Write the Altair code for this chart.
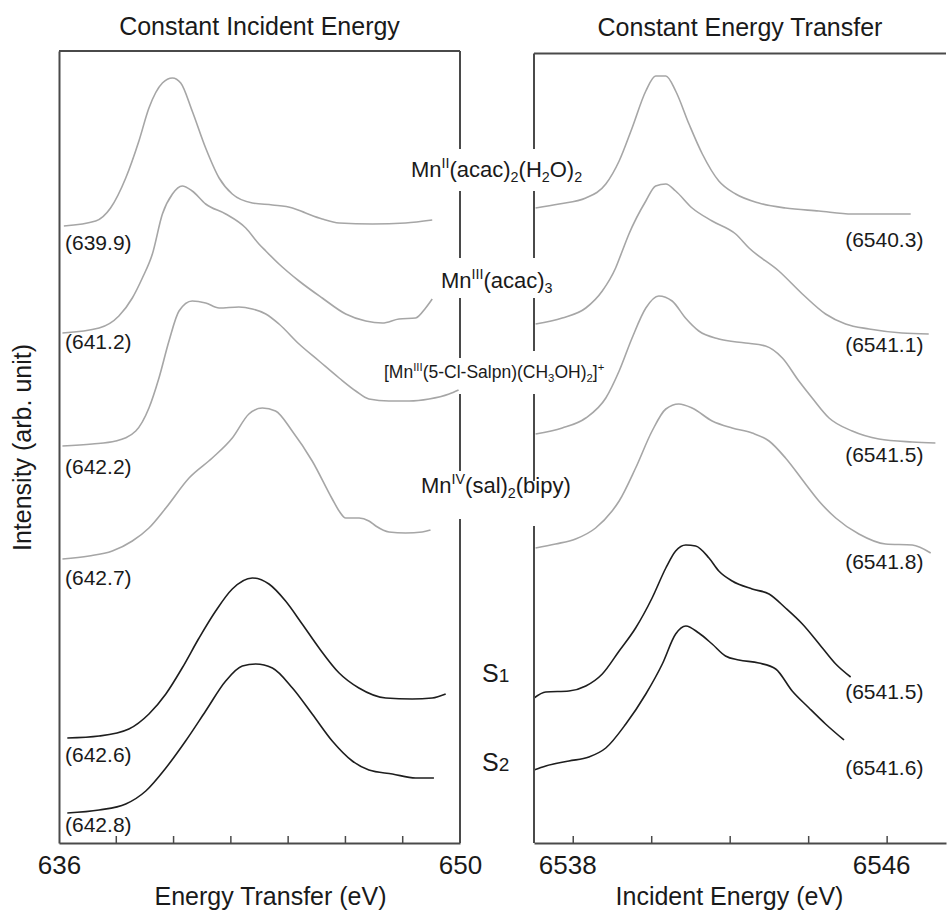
import altair as alt
import pandas as pd

FONT = "Liberation Sans"
GRAY = "#a6a6a6"
BLACK = "#1e1e1e"
FRAME = "#4a4a4a"
INK = "#1a1a1a"

# ---------------- Constant incident energy (x: energy transfer, eV) ----------------
cie_mn2_e = [636.17, 637.28, 637.80, 638.33, 638.79, 639.14, 639.61, 639.96, 640.25, 640.65, 641.12,
             641.59, 642.05, 642.75, 643.45, 644.15, 644.61, 645.19, 645.78, 646.94, 648.10, 649.03]
cie_mn2_i = [617, 622, 635, 665, 702, 735, 760, 765, 760, 732, 695,
             665, 649, 640, 638, 635, 630, 624, 620, 619, 620, 623]

cie_mn3_e = [636.12, 637.40, 638.09, 638.56, 638.91, 639.26, 639.61, 639.96, 640.30, 640.65, 641.12, 641.82,
             642.52, 642.98, 643.22, 643.68, 644.38, 645.19, 646.01, 646.71, 647.29, 647.87, 648.45, 648.80, 649.03]
cie_mn3_i = [510, 515, 527, 545, 565, 589, 629, 649, 657, 652, 639, 629,
             615, 599, 592, 579, 562, 545, 529, 522, 520, 524, 525, 535, 544]

cie_salpn_e = [636.12, 637.16, 637.98, 638.68, 639.14, 639.49, 639.84, 640.19, 640.65, 641.12, 641.59, 642.28,
               642.75, 643.22, 643.68, 644.38, 645.08, 645.78, 646.36, 646.82, 647.52, 648.22, 648.92, 649.62, 649.95]
cie_salpn_i = [397, 399, 402, 412, 435, 465, 502, 532, 542, 540, 535, 536,
               534, 529, 519, 499, 482, 465, 452, 444, 442, 442, 444, 449, 453]

cie_mn4_e = [636.12, 637.05, 637.86, 638.56, 639.14, 639.73, 640.54, 641.35, 642.05, 642.63, 643.10, 643.56,
             644.14, 644.84, 645.54, 645.78, 646.01, 646.48, 646.82, 647.06, 647.52, 648.10, 648.68, 648.97]
cie_mn4_i = [284, 287, 292, 302, 315, 335, 365, 385, 405, 429, 435, 432,
             412, 382, 344, 332, 325, 325, 322, 317, 311, 310, 311, 313]

cie_s1_e = [636.29, 637.40, 638.44, 639.14, 639.73, 640.30, 640.89, 641.47, 642.05, 642.75,
            643.33, 643.91, 644.49, 645.08, 645.78, 646.47, 647.41, 648.33, 649.03, 649.50]
cie_s1_i = [105, 107, 114, 129, 149, 175, 205, 232, 254, 265,
            259, 242, 219, 195, 170, 155, 145, 144, 145, 149]

cie_s2_e = [636.29, 637.40, 638.33, 639.03, 639.73, 640.42, 641.12, 641.82, 642.40, 642.87,
            643.45, 644.15, 644.84, 645.54, 646.24, 646.82, 647.64, 648.45, 649.09]
cie_s2_i = [30, 33, 39, 52, 75, 102, 132, 162, 177, 179,
            175, 155, 129, 102, 82, 73, 69, 65, 65]

cie_tags = ["(639.9)", "(641.2)", "(642.2)", "(642.7)", "(642.6)", "(642.8)"]
cie_tag_i = [599, 500, 375, 264, 87, 17]
cie_ticks = [638, 640, 642, 644, 646, 648]

# ---------------- Constant energy transfer (x: incident energy, eV) ----------------
cet_mn2_e = [6537.04, 6537.64, 6538.32, 6538.83, 6539.17, 6539.50, 6539.85, 6540.10, 6540.36, 6540.61,
             6540.95, 6541.29, 6541.71, 6542.14, 6542.73, 6543.41, 6544.26, 6545.11, 6545.96, 6546.60]
cet_mn2_i = [635, 639, 645, 659, 682, 715, 752, 767, 767, 752,
             719, 689, 662, 649, 640, 635, 632, 629, 629, 629]

cet_mn3_e = [6537.04, 6537.72, 6538.32, 6538.74, 6539.08, 6539.25, 6539.42, 6539.85, 6540.10, 6540.36, 6540.61,
             6541.03, 6541.54, 6542.14, 6542.48, 6543.24, 6543.84, 6544.43, 6544.94, 6545.54, 6546.38, 6547.06]
cet_mn3_i = [519, 525, 535, 552, 575, 592, 609, 642, 657, 659, 652,
             635, 622, 609, 595, 572, 549, 529, 519, 514, 510, 509]

cet_salpn_e = [6537.04, 6537.72, 6538.32, 6538.83, 6539.17, 6539.50, 6539.85, 6540.18, 6540.52, 6540.86, 6541.20,
               6541.71, 6542.39, 6542.90, 6543.33, 6543.75, 6544.09, 6544.52, 6545.11, 6545.79, 6546.64, 6547.23]
cet_salpn_i = [409, 415, 425, 445, 472, 505, 535, 547, 542, 525, 512,
               504, 500, 497, 485, 462, 445, 425, 412, 404, 401, 400]

cet_mn4_e = [6537.04, 6537.55, 6538.06, 6538.57, 6538.99, 6539.17, 6539.59, 6540.01, 6540.36, 6540.69, 6541.03, 6541.54,
             6542.05, 6542.56, 6542.99, 6543.41, 6543.92, 6544.26, 6544.69, 6545.28, 6545.96, 6546.64, 6547.11]
cet_mn4_i = [295, 299, 304, 315, 332, 342, 375, 412, 434, 439, 435, 422,
             415, 410, 402, 385, 359, 342, 325, 309, 299, 298, 290]

cet_s1_e = [6537.00, 6537.30, 6537.89, 6538.32, 6538.74, 6539.17, 6539.59, 6540.01, 6540.36, 6540.61, 6540.87,
            6541.12, 6541.46, 6541.71, 6542.05, 6542.56, 6542.99, 6543.41, 6543.84, 6544.35, 6544.69, 6545.07]
cet_s1_i = [145, 151, 152, 157, 169, 192, 215, 245, 275, 292, 298,
            297, 285, 272, 262, 254, 249, 235, 219, 195, 179, 166]

cet_s2_e = [6537.00, 6537.30, 6537.89, 6538.40, 6538.83, 6539.34, 6539.85, 6540.27, 6540.61, 6540.87,
            6541.20, 6541.54, 6541.88, 6542.22, 6542.73, 6543.16, 6543.58, 6544.01, 6544.43, 6544.90]
cet_s2_i = [73, 77, 82, 86, 95, 119, 149, 179, 209, 217,
            210, 199, 187, 183, 180, 174, 152, 135, 119, 103]

cet_tags = ["(6540.3)", "(6541.1)", "(6541.5)", "(6541.8)", "(6541.5)", "(6541.6)"]
cet_tag_i = [602, 497, 387, 280, 150, 74]
cet_ticks = [6538, 6540, 6542, 6544, 6546]

# Compound names shared by both panels (text, style) with style "", "sup", "sub" or "low"
name_mn2 = [("Mn", ""), ("II", "sup"), ("(acac)", ""), ("2", "sub"), ("(H", ""), ("2", "sub"), ("O)", ""), ("2", "sub")]
name_mn3 = [("Mn", ""), ("III", "sup"), ("(acac)", ""), ("3", "sub")]
name_salpn = [("[Mn", ""), ("III", "sup"), ("(5-Cl-Salpn)(CH", ""), ("3", "sub"), ("OH)", ""), ("2", "sub"),
              ("]", ""), ("+", "sup")]
name_mn4 = [("Mn", ""), ("IV", "sup"), ("(sal)", ""), ("2", "sub"), ("(bipy)", "")]
name_s1 = [("S", ""), ("1", "low")]
name_s2 = [("S", ""), ("2", "low")]

# ---------------- layout constants ----------------
W_L, W_R, H = 401, 412, 792
GAP = 74
X_DOM_L = [636, 650]
X_DOM_R = [6537, 6547.5]
Y_DOM = [0, 792]

# Advance widths of Liberation Sans (Arial metrics), per 1000 em
ADV = {" ": 278, "(": 333, ")": 333, "[": 278, "]": 278, "+": 584, "-": 333, ".": 278,
       "A": 667, "C": 722, "H": 722, "I": 278, "M": 833, "O": 778, "S": 667, "V": 667,
       "a": 556, "b": 556, "c": 500, "i": 222, "l": 222, "n": 556, "p": 556, "s": 500, "y": 500}


def adv(s, size):
    return sum(ADV.get(ch, 556) for ch in s) * size / 1000.0


def compose(parts, left, baseline, size):
    """Lay out a formula with super/subscripts; returns rows in left-panel pixel space."""
    rows = []
    x = left
    for txt, style in parts:
        if style == "sup":
            fs, shift = size * 0.65, -size * 0.40
        elif style == "sub":
            fs, shift = size * 0.65, size * 0.22
        elif style == "low":
            fs, shift = size * 0.76, 0.0
        else:
            fs, shift = size, 0.0
        rows.append({"px": x, "py": baseline + shift, "txt": txt, "fs": fs})
        x += adv(txt, fs)
    return rows


# anchors: (parts, left x, baseline y, font size) relative to the left plot's origin
name_rows = []
for parts, lx, by, fs in [(name_mn2, 352, 126, 22), (name_mn3, 382, 237, 22),
                          (name_salpn, 325, 327, 17.5), (name_mn4, 362, 442, 22),
                          (name_s1, 423, 631, 25), (name_s2, 423, 720, 25)]:
    name_rows += compose(parts, lx, by, fs)
names_df = pd.DataFrame(name_rows)


def curves_df(items):
    rows = []
    for name, es, vs, col in items:
        for e, v in zip(es, vs):
            rows.append({"energy": e, "intensity": v, "curve": name, "col": col})
    return pd.DataFrame(rows)


left_df = curves_df([("mn2", cie_mn2_e, cie_mn2_i, GRAY), ("mn3", cie_mn3_e, cie_mn3_i, GRAY),
                     ("salpn", cie_salpn_e, cie_salpn_i, GRAY), ("mn4", cie_mn4_e, cie_mn4_i, GRAY),
                     ("s1", cie_s1_e, cie_s1_i, BLACK), ("s2", cie_s2_e, cie_s2_i, BLACK)])
right_df = curves_df([("mn2", cet_mn2_e, cet_mn2_i, GRAY), ("mn3", cet_mn3_e, cet_mn3_i, GRAY),
                      ("salpn", cet_salpn_e, cet_salpn_i, GRAY), ("mn4", cet_mn4_e, cet_mn4_i, GRAY),
                      ("s1", cet_s1_e, cet_s1_i, BLACK), ("s2", cet_s2_e, cet_s2_i, BLACK)])

# frame edges that are broken where the compound names cross them
left_edge_segs = pd.DataFrame({"e": [650] * 5, "a": [792, 652, 545, 449, 324], "b": [694, 585, 485, 372, 0]})
right_edge_segs = pd.DataFrame({"e": [6537] * 5, "a": [789.5, 652, 545, 449, 317], "b": [694, 585, 492, 362, 0]})

axis_common = dict(grid=False, domainColor=FRAME, domainWidth=2, labelFont=FONT, titleFont=FONT,
                   labelColor=INK, titleColor=INK, titleFontWeight="normal")


def panel(df, xdom, width, ticks, tags, tag_e, tag_i, edge_segs, top_i, xaxis, yaxis, title, extra=None):
    xs = alt.Scale(domain=xdom, nice=False, zero=False)
    ys = alt.Scale(domain=Y_DOM, nice=False, zero=False)
    # every layer carries the same axis definition so the shared axes merge cleanly
    lines = alt.Chart(df).mark_line(strokeWidth=1.6, interpolate="monotone").encode(
        x=alt.X("energy:Q", scale=xs, axis=xaxis),
        y=alt.Y("intensity:Q", scale=ys, axis=yaxis),
        color=alt.Color("col:N", scale=None, legend=None),
        detail="curve:N",
    )
    edge = alt.Chart(edge_segs).mark_rule(color=FRAME, strokeWidth=2).encode(
        x=alt.X("e:Q", scale=xs, axis=xaxis),
        y=alt.Y("a:Q", scale=ys, axis=yaxis),
        y2="b:Q",
    )
    top = alt.Chart(pd.DataFrame({"a": [xdom[0]], "b": [xdom[1]], "t": [top_i]})).mark_rule(
        color=FRAME, strokeWidth=2).encode(
        x=alt.X("a:Q", scale=xs, axis=xaxis), x2="b:Q", y=alt.Y("t:Q", scale=ys, axis=yaxis))
    tick_marks = alt.Chart(pd.DataFrame({"t": ticks, "lo": [0] * len(ticks), "hi": [7] * len(ticks)})).mark_rule(
        color=FRAME, strokeWidth=1.5).encode(
        x=alt.X("t:Q", scale=xs, axis=xaxis), y=alt.Y("lo:Q", scale=ys, axis=yaxis), y2="hi:Q")
    tag_text = alt.Chart(pd.DataFrame({"tag": tags, "e": [tag_e] * len(tags), "v": tag_i})).mark_text(
        align="left", baseline="middle", font=FONT, fontSize=21, color=INK).encode(
        x=alt.X("e:Q", scale=xs, axis=xaxis), y=alt.Y("v:Q", scale=ys, axis=yaxis), text="tag:N")
    layers = [lines, edge, top, tick_marks, tag_text]
    if extra is not None:
        layers.append(extra)
    return alt.layer(*layers).properties(
        width=width, height=H,
        title=alt.TitleParams(title, font=FONT, fontSize=25, fontWeight="normal", color=INK,
                              anchor="middle", offset=10),
    )


names = alt.Chart(names_df).mark_text(align="left", baseline="alphabetic", font=FONT, color=INK).encode(
    x=alt.X("px:Q", scale=None),
    y=alt.Y("py:Q", scale=None),
    size=alt.Size("fs:Q", scale=None, legend=None),
    text="txt:N",
)

left_x_axis = alt.Axis(values=[636, 650], ticks=False, labelFontSize=26, labelPadding=9, labelFlush=False,
                       format="d", title="Energy Transfer (eV)", titleFontSize=25, titlePadding=6,
                       titleX=211, **axis_common)
left_y_axis = alt.Axis(ticks=False, labels=False, title="Intensity (arb. unit)", titleFontSize=25,
                       titlePadding=24, **axis_common)
right_x_axis = alt.Axis(values=[6538, 6546], ticks=False, labelFontSize=26, labelPadding=9, labelFlush=False,
                        labelOffset=-6, format="d", title="Incident Energy (eV)", titleFontSize=25,
                        titlePadding=6, titleX=195, **axis_common)

left = panel(left_df, X_DOM_L, W_L, cie_ticks, cie_tags, 636.21, cie_tag_i, left_edge_segs, 792,
             left_x_axis, left_y_axis, "Constant Incident Energy", extra=names)
right = panel(right_df, X_DOM_R, W_R, cet_ticks, cet_tags, 6544.93, cet_tag_i, right_edge_segs, 789.5,
              right_x_axis, None, "Constant Energy Transfer")

chart = (
    alt.hconcat(left, right, spacing=GAP, bounds="flush")
    .properties(padding={"left": 10, "top": 15, "right": 0, "bottom": 2}, background="white")
    .configure(font=FONT)
    .configure_view(stroke=None)
)

chart.save("out.html", embed_options={"renderer": "svg", "actions": False})
